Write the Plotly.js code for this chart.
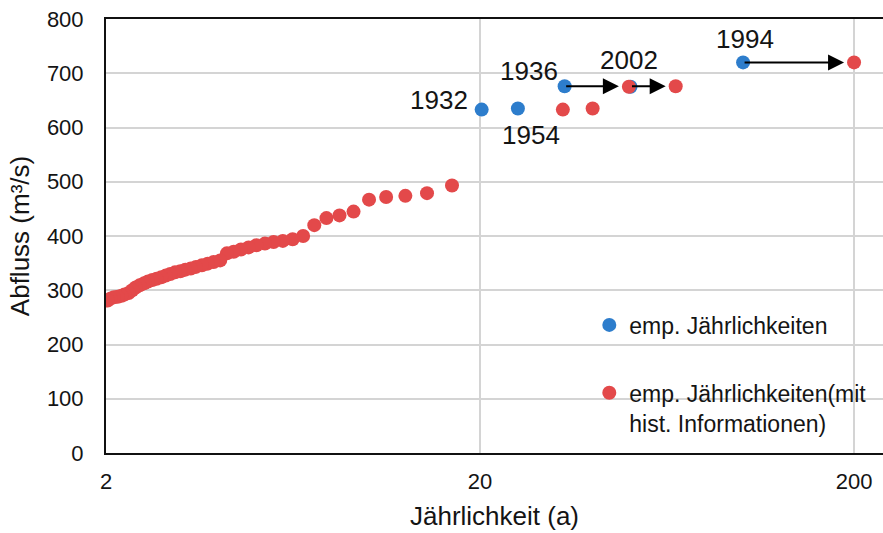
<!DOCTYPE html>
<html>
<head>
<meta charset="utf-8">
<script src="https://cdn.plot.ly/plotly-3.0.1.min.js"></script>
<style>
  html, body { margin: 0; padding: 0; background: #ffffff; }
  #chart { width: 883px; height: 533px; }
</style>
</head>
<body>
<div id="chart"></div>
<script>
// Empirical return periods (a) and peak discharges (m³/s), systematic record
const sysYears = ['1932', '1954', '1936', '2002', '1994'];
const sysT = [20.2, 25.25, 33.67, 50.5, 101];
const sysQ = [633, 635, 676, 675, 720];

// Return periods with historical information: the five largest floods re-ranked
const histT = [33.3, 40, 50, 66.7, 200];
const histQ = [633, 635, 675, 676, 720];

// Remaining floods of the record (shared by both estimates)
const restT = [16.83, 14.43, 12.63, 11.22, 10.1, 9.18, 8.42, 7.77, 7.21, 6.73,
               6.31, 5.94, 5.61, 5.32, 5.05, 4.81, 4.59, 4.39, 4.21, 4.04,
               3.88, 3.74, 3.61, 3.48, 3.37, 3.26, 3.16, 3.06, 2.97, 2.89,
               2.81, 2.73, 2.66, 2.59, 2.53, 2.46, 2.40, 2.35, 2.30, 2.24,
               2.20, 2.15, 2.10, 2.06, 2.02];
const restQ = [493, 479, 474, 472, 467, 445, 438, 433, 420, 400,
               394, 391, 389, 386, 383, 379, 375, 371, 368, 355,
               352, 349, 346, 343, 340, 338, 335, 333, 330, 327,
               324, 321, 319, 316, 313, 309, 305, 300, 295, 292,
               290, 288, 287, 285, 281];

// Shifts of the three floods whose return period changes (from -> to)
const shiftFromT = [33.67, 50.5, 101];
const shiftToT = [50, 66.7, 200];
const shiftQ = [676, 676, 720];

const xTicks = [2, 20, 200];
const xTickText = ['2', '20', '200'];
const yTicks = [0, 100, 200, 300, 400, 500, 600, 700, 800];

const BLUE = '#2d7dcc';
const RED = '#e3494a';
const TEXT = '#141414';
const FONT = 'Arial, "Liberation Sans", Helvetica, sans-serif';

const traces = [
  {
    type: 'scatter', mode: 'markers',
    x: sysT, y: sysQ,
    name: 'emp. Jährlichkeiten',
    legend: 'legend',
    marker: { color: BLUE, size: 14 },
    hoverinfo: 'x+y'
  },
  {
    type: 'scatter', mode: 'markers',
    x: histT.concat(restT), y: histQ.concat(restQ),
    name: 'emp. Jährlichkeiten(mit<br>hist. Informationen)',
    legend: 'legend2',
    marker: { color: RED, size: 14 },
    hoverinfo: 'x+y'
  }
];

// Year labels placed relative to their points (pixel offsets)
const labelStyle = {
  '1932': { xanchor: 'right', xshift: -12, yshift: 10 },
  '1954': { xanchor: 'center', xshift: 13, yshift: -26 },
  '1936': { xanchor: 'right', xshift: -5, yshift: 15 },
  '2002': { xanchor: 'center', xshift: -1, yshift: 27 },
  '1994': { xanchor: 'center', xshift: 2, yshift: 23 }
};

const annotations = [];
sysYears.forEach((yr, i) => {
  const s = labelStyle[yr];
  annotations.push({
    x: Math.log10(sysT[i]), y: sysQ[i], xref: 'x', yref: 'y',
    text: yr, showarrow: false,
    xanchor: s.xanchor, yanchor: 'middle',
    xshift: s.xshift, yshift: s.yshift,
    font: { family: FONT, size: 26, color: TEXT }
  });
});
shiftFromT.forEach((t0, i) => {
  annotations.push({
    x: Math.log10(shiftToT[i]), y: shiftQ[i],
    ax: Math.log10(t0), ay: shiftQ[i],
    xref: 'x', yref: 'y', axref: 'x', ayref: 'y',
    text: '', showarrow: true,
    arrowhead: 2, arrowsize: 1.6, arrowwidth: 2, arrowcolor: '#000000',
    standoff: 10, startstandoff: 0
  });
});

const layout = {
  width: 883, height: 533,
  margin: { l: 106, r: 0, t: 19, b: 80, pad: 0 },
  paper_bgcolor: '#ffffff', plot_bgcolor: '#ffffff',
  font: { family: FONT, size: 22, color: TEXT },
  showlegend: true,
  xaxis: {
    type: 'log',
    range: [Math.log10(2), Math.log10(239)],
    tickvals: xTicks, ticktext: xTickText,
    ticks: '', ticklabelstandoff: 8,
    showgrid: true, gridcolor: '#d4d4d4', gridwidth: 2,
    showline: true, linecolor: '#111111', linewidth: 2, mirror: true,
    zeroline: false,
    tickfont: { family: FONT, size: 22, color: TEXT },
    title: { text: 'Jährlichkeit (a)', standoff: 13,
             font: { family: FONT, size: 26, color: TEXT } }
  },
  yaxis: {
    range: [0, 800],
    tickvals: yTicks,
    ticks: '', ticklabelstandoff: 16,
    showgrid: true, gridcolor: '#d4d4d4', gridwidth: 2,
    showline: true, linecolor: '#111111', linewidth: 2,
    zeroline: false,
    tickfont: { family: FONT, size: 22, color: TEXT },
    title: { text: 'Abfluss (m³/s)', standoff: 10,
             font: { family: FONT, size: 26, color: TEXT } }
  },
  legend: {
    x: 0.622, y: 0.295, xanchor: 'left', yanchor: 'middle',
    bgcolor: 'rgba(0,0,0,0)', borderwidth: 0,
    itemwidth: 30,
    font: { family: FONT, size: 23, color: TEXT }
  },
  legend2: {
    x: 0.622, y: 0.104, xanchor: 'left', yanchor: 'middle',
    bgcolor: 'rgba(0,0,0,0)', borderwidth: 0,
    itemwidth: 30, valign: 'top',
    font: { family: FONT, size: 23, color: TEXT }
  },
  annotations: annotations
};

Plotly.newPlot('chart', traces, layout, { displayModeBar: false, staticPlot: true });
</script>
</body>
</html>
